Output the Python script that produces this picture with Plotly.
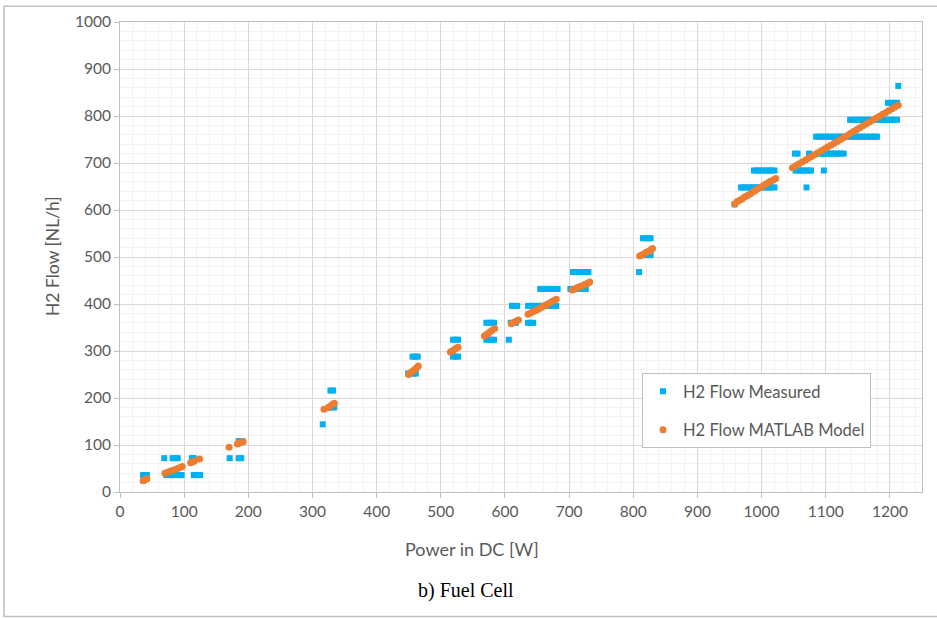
import plotly.graph_objects as go

# ---- Measured H2 flow (levels are multiples of 36 NL/h) ----
meas_p_36 = [36, 39, 42, 72, 76, 80, 84, 88, 92, 96, 115, 118, 125]
meas_p_72 = [69, 82, 86, 90, 112, 115, 171, 185, 189]
meas_p_108 = [185, 188, 191]
meas_p_144 = [316]
meas_p_180 = [326, 330, 334]
meas_p_216 = [328, 332]
meas_p_252 = [449, 453, 457, 461]
meas_p_288 = [456, 460, 464, 519, 523, 527]
meas_p_324 = [519, 523, 527, 571, 575, 579, 583, 606]
meas_p_360 = [571, 575, 579, 583, 609, 613, 617, 636, 640, 644]
meas_p_396 = [611, 615, 619, 636, 640, 644, 648, 652, 656, 660, 664, 668, 672, 676, 680]
meas_p_432 = [655, 659, 663, 667, 671, 675, 679, 682, 702, 706, 710, 714, 718, 722, 726]
meas_p_468 = [706, 710, 714, 718, 722, 726, 730, 809]
meas_p_504 = [815, 819, 823, 827]
meas_p_540 = [815, 819, 823, 827]
meas_p_612 = [958]
meas_p_648 = [968, 972, 976, 980, 984, 988, 992, 996, 1000, 1004, 1008, 1012, 1016, 1020, 1070]
meas_p_684 = [988, 992, 996, 1000, 1004, 1008, 1012, 1016, 1020,
              1053, 1057, 1061, 1065, 1069, 1073, 1077, 1097]
meas_p_720 = [1052, 1056, 1074, 1088, 1092, 1096, 1100, 1104, 1108, 1112, 1116, 1120, 1124, 1128]
meas_p_756 = [1085, 1089, 1093, 1097, 1101, 1105, 1109, 1113, 1117, 1121, 1125, 1129, 1133,
              1137, 1141, 1145, 1149, 1153, 1157, 1161, 1165, 1169, 1173, 1177, 1180]
meas_p_792 = [1138, 1142, 1146, 1150, 1154, 1158, 1162, 1166, 1170, 1174, 1178, 1182, 1186,
              1190, 1194, 1198, 1202, 1206, 1211]
meas_p_828 = [1197, 1201, 1205, 1209, 1211]
meas_p_864 = [1213]

meas_levels = {
    36: meas_p_36, 72: meas_p_72, 108: meas_p_108, 144: meas_p_144, 180: meas_p_180,
    216: meas_p_216, 252: meas_p_252, 288: meas_p_288, 324: meas_p_324, 360: meas_p_360,
    396: meas_p_396, 432: meas_p_432, 468: meas_p_468, 504: meas_p_504, 540: meas_p_540,
    612: meas_p_612, 648: meas_p_648, 684: meas_p_684, 720: meas_p_720, 756: meas_p_756,
    792: meas_p_792, 828: meas_p_828, 864: meas_p_864,
}

# ---- MATLAB model H2 flow ----
model_power = [36, 38, 40, 42,
               70, 74, 78, 82, 86, 90, 94, 97, 110, 113, 116, 124,
               170, 183, 186, 189, 192,
               318, 325, 328, 331, 334,
               450, 453, 456, 459, 462, 465,
               515, 518, 521, 524, 527,
               568, 571, 574, 577, 580, 584,
               610, 614, 618, 621,
               636, 640, 644, 648, 652, 656, 660, 664, 668, 672, 676, 680,
               705, 709, 713, 717, 721, 725, 729, 732,
               810, 813, 816, 819, 822, 825, 828, 830,
               958, 962, 966, 970, 974, 978, 982, 986, 990, 994, 998, 1002, 1006, 1010, 1014, 1018, 1022,
               1048, 1053, 1058, 1063, 1068, 1073, 1078, 1083, 1088, 1093, 1098, 1103, 1108, 1113,
               1118, 1123, 1128, 1133, 1138, 1143, 1148, 1153, 1158, 1163, 1168, 1173, 1178, 1183,
               1188, 1193, 1198, 1203, 1208, 1213]
model_flow = [24, 25, 27, 28,
              40, 42, 44, 46, 48, 50, 52, 54, 62, 64, 66, 70,
              95, 102, 104, 106, 107,
              176, 180, 183, 186, 189,
              250, 254, 257, 260, 264, 268,
              298, 300, 303, 306, 308,
              332, 335, 338, 341, 344, 348,
              358, 361, 364, 366,
              378, 381, 384, 386, 389, 392, 395, 398, 401, 404, 407, 410,
              430, 432, 435, 437, 439, 442, 444, 447,
              502, 504, 506, 509, 511, 513, 516, 518,
              613, 618, 621, 624, 628, 631, 634, 638, 641, 645, 648, 651, 655, 658, 661, 664, 667,
              690, 694, 698, 702, 706, 710, 714, 718, 722, 726, 730, 734, 738, 742,
              746, 750, 754, 758, 763, 767, 771, 775, 779, 783, 787, 791, 795, 799,
              803, 807, 811, 815, 819, 823]

meas_power = []
meas_flow = []
for lvl, ps in meas_levels.items():
    meas_power += ps
    meas_flow += [lvl] * len(ps)

x_ticks = list(range(0, 1201, 100))
y_ticks = list(range(0, 1001, 100))

BLUE = "#00B0F0"
ORANGE = "#ED7D31"
TXT = "#595959"
FONT = "Lato, 'Open Sans', sans-serif"

fig = go.Figure()
fig.add_trace(go.Scatter(
    x=meas_power, y=meas_flow, mode="markers", name="H2 Flow Measured",
    legendgroup="a",
    marker=dict(symbol="square", size=6, color=BLUE, line=dict(width=0)),
))
fig.add_trace(go.Scatter(
    x=model_power, y=model_flow, mode="markers", name="H2 Flow MATLAB Model",
    legendgroup="b",
    marker=dict(symbol="circle", size=7, color=ORANGE, line=dict(width=0)),
))

L, R, T, B = 120, 15, 18, 127
W, H = 937, 619
pw, ph = W - L - R, H - T - B

def px(x):
    return (x - L) / pw

def py(y):
    return (H - B - y) / ph

fig.update_layout(
    width=W, height=H,
    margin=dict(l=L, r=R, t=T, b=B, pad=0),
    paper_bgcolor="white", plot_bgcolor="white",
    font=dict(family=FONT, size=15, color=TXT),
    showlegend=True,
    legend=dict(
        x=px(642), y=py(372), xanchor="left", yanchor="top",
        bgcolor="white", bordercolor="#BFBFBF", borderwidth=1,
        font=dict(family=FONT, size=16.5, color=TXT),
        tracegroupgap=14, itemwidth=30,
    ),
    xaxis=dict(
        range=[0, 1250], tickvals=x_ticks, ticktext=[str(v) for v in x_ticks],
        showgrid=True, gridcolor="#D9D9D9", gridwidth=1,
        minor=dict(dtick=20, showgrid=True, gridcolor="#F2F2F2", gridwidth=1, ticks=""),
        showline=True, linecolor="#BFBFBF", linewidth=1, mirror=True,
        ticks="outside", ticklen=5, tickcolor="#BFBFBF",
        tickfont=dict(family=FONT, size=15.5, color=TXT),
        zeroline=False, fixedrange=True,
    ),
    yaxis=dict(
        range=[0, 1000], tickvals=y_ticks, ticktext=[str(v) for v in y_ticks],
        showgrid=True, gridcolor="#D9D9D9", gridwidth=1,
        minor=dict(dtick=20, showgrid=True, gridcolor="#F2F2F2", gridwidth=1, ticks=""),
        showline=True, linecolor="#BFBFBF", linewidth=1, mirror=True,
        ticks="outside", ticklen=5, tickcolor="#BFBFBF",
        tickfont=dict(family=FONT, size=15.5, color=TXT),
        zeroline=False, fixedrange=True,
    ),
    annotations=[
        dict(text="Power in DC [W]", xref="paper", yref="paper", x=px(472), y=py(549),
             xanchor="center", yanchor="middle", showarrow=False,
             font=dict(family=FONT, size=18, color=TXT)),
        dict(text="H2 Flow [NL/h]", xref="paper", yref="paper", x=px(52), y=py(254),
             xanchor="center", yanchor="middle", showarrow=False, textangle=-90,
             font=dict(family=FONT, size=17.5, color=TXT)),
        dict(text="b) Fuel Cell", xref="paper", yref="paper", x=px(466), y=py(591),
             xanchor="center", yanchor="middle", showarrow=False,
             font=dict(family="Liberation Serif, Times New Roman, serif", size=20, color="black")),
    ],
    shapes=[
        dict(type="rect", xref="paper", yref="paper",
             x0=px(4), x1=px(945), y0=py(617.5), y1=py(2),
             line=dict(color="#BFBFBF", width=1.5), fillcolor="rgba(0,0,0,0)", layer="below"),
    ],
)

fig.write_html("out.html")
